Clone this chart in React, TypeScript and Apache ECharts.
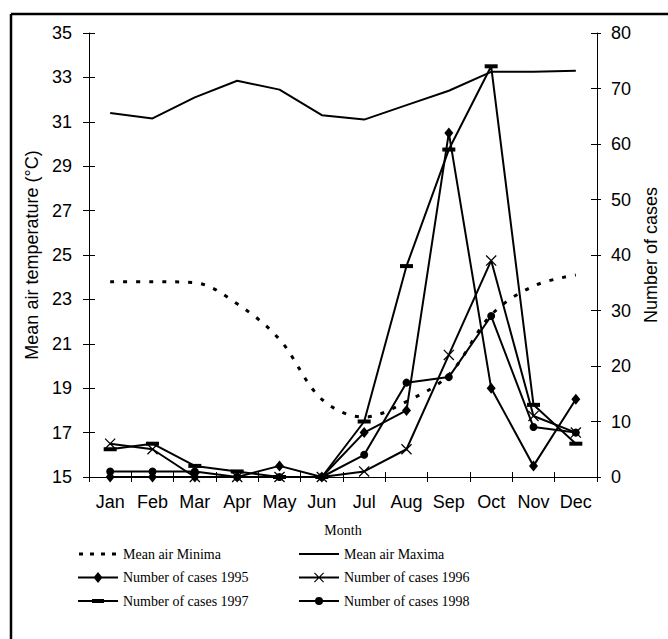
import React, { useEffect, useRef } from "react";
import * as echarts from "echarts";

const months = ["Jan", "Feb", "Mar", "Apr", "May", "Jun", "Jul", "Aug", "Sep", "Oct", "Nov", "Dec"];
const tempMin = [23.8, 23.8, 23.75, 22.8, 21.2, 18.5, 17.7, 18.4, 19.6, 22.3, 23.6, 24.1];
const tempMax = [31.4, 31.15, 32.1, 32.85, 32.45, 31.3, 31.1, 31.75, 32.4, 33.25, 33.25, 33.3];
const cases1995 = [0, 0, 0, 0, 2, 0, 8, 12, 62, 16, 2, 14];
const cases1996 = [6, 5, 0, 0, 0, 0, 1, 5, 22, 39, 11, 8];
const cases1997 = [5, 6, 2, 1, 0, 0, 10, 38, 59, 74, 13, 6];
const cases1998 = [1, 1, 1, 0, 0, 0, 4, 17, 18, 29, 9, 8];
const tempTicks = [15, 17, 19, 21, 23, 25, 27, 29, 31, 33, 35];

const SANS = "Liberation Sans";
const SERIF = "Liberation Serif";

// symbol shapes
const X_SYMBOL = "path://M0.8,0L10,9.2L9.2,10L0,0.8ZM9.2,0L10,0.8L0.8,10L0,9.2Z";

// legend icons drawn in a 40x14 box (line sample + marker)
const BOX = "M0,0L0.01,0ZM39.99,14L40,14Z";
const LINE = "M0,6L40,6L40,8L0,8Z";
const ICON_MIN = "path://" + BOX + "M1,5.5L5,5.5L5,8.5L1,8.5ZM12,5.5L16,5.5L16,8.5L12,8.5ZM23,5.5L27,5.5L27,8.5L23,8.5ZM34,5.5L38,5.5L38,8.5L34,8.5Z";
const ICON_MAX = "path://" + BOX + LINE;
const ICON_1995 = "path://" + BOX + LINE + "M20,1.5L24.5,7L20,12.5L15.5,7Z";
const ICON_1996 = "path://" + BOX + LINE + "M15.8,2L25,11.2L24.2,12L15,2.8ZM24.2,2L25,2.8L15.8,12L15,11.2Z";
const ICON_1997 = "path://" + BOX + LINE + "M14,5L26,5L26,9L14,9Z";
const ICON_1998 = "path://" + BOX + LINE + "M16,7A4,4,0,1,1,24,7A4,4,0,1,1,16,7Z";

export default function App() {
  const ref = useRef<HTMLDivElement>(null);
  useEffect(() => {
    if (!ref.current) return;
    const chart = echarts.init(ref.current, null, { renderer: "svg" });
    const axisText = { color: "#000", fontFamily: SANS, fontSize: 18 };
    const lineBlack = { lineStyle: { color: "#000", width: 1 } };
    const caseSeries = (name: string, data: number[], symbol: any, size: any) => ({
      name,
      type: "line",
      yAxisIndex: 1,
      data,
      symbol,
      symbolSize: size,
      showSymbol: true,
      lineStyle: { color: "#000", width: 2 },
      itemStyle: { color: "#000" },
      z: 3,
    });
    const legendBase = {
      orient: "vertical",
      top: 547,
      padding: 0,
      itemWidth: 40,
      itemHeight: 14,
      itemGap: 9.5,
      itemStyle: { color: "#000", borderWidth: 0 },
      textStyle: { color: "#000", fontFamily: SERIF, fontSize: 14 },
    };
    chart.setOption({
      animation: false,
      backgroundColor: "#fff",
      grid: { left: 89, right: 64, top: 33, bottom: 162 },
      graphic: [
        { type: "line", shape: { x1: 11, y1: 14, x2: 668, y2: 14 }, style: { stroke: "#000", lineWidth: 2.5 } },
        { type: "line", shape: { x1: 11, y1: 14, x2: 11, y2: 639 }, style: { stroke: "#000", lineWidth: 2.5 } },
      ],
      legend: [
        {
          ...legendBase,
          left: 78,
          data: [
            { name: "Mean air Minima", icon: ICON_MIN },
            { name: "Number of cases 1995", icon: ICON_1995 },
            { name: "Number of cases 1997", icon: ICON_1997 },
          ],
        },
        {
          ...legendBase,
          left: 299,
          data: [
            { name: "Mean air Maxima", icon: ICON_MAX },
            { name: "Number of cases 1996", icon: ICON_1996 },
            { name: "Number of cases 1998", icon: ICON_1998 },
          ],
        },
      ],
      xAxis: [
        {
          type: "category",
          data: months,
          boundaryGap: true,
          axisLine: lineBlack,
          axisTick: { show: true, length: 5, lineStyle: { color: "#000" } },
          axisLabel: { ...axisText, margin: 16, interval: 0, hideOverlap: false },
          name: "Month",
          nameLocation: "middle",
          nameGap: 46,
          nameTextStyle: { color: "#000", fontFamily: SERIF, fontSize: 14 },
          splitLine: { show: false },
        },
        {
          type: "category",
          data: months,
          boundaryGap: true,
          position: "bottom",
          axisLine: { show: false },
          axisTick: { show: true, inside: true, length: 5, lineStyle: { color: "#000" } },
          axisLabel: { show: false },
          splitLine: { show: false },
        },
      ],
      yAxis: [
        {
          type: "value",
          min: 15,
          max: 35,
          position: "left",
          axisLine: { show: true, ...lineBlack },
          axisTick: { show: true, length: 6, customValues: tempTicks, lineStyle: { color: "#000" } },
          axisLabel: { ...axisText, margin: 17, customValues: tempTicks },
          splitLine: { show: false },
          name: "Mean air temperature (°C)",
          nameLocation: "middle",
          nameGap: 47,
          nameTextStyle: { color: "#000", fontFamily: SANS, fontSize: 18 },
        },
        {
          type: "value",
          min: 0,
          max: 80,
          interval: 10,
          position: "right",
          axisLine: { show: true, ...lineBlack },
          axisTick: { show: true, length: 4, lineStyle: { color: "#000" } },
          axisLabel: { ...axisText, margin: 14 },
          splitLine: { show: false },
          name: "Number of cases",
          nameLocation: "middle",
          nameRotate: 90,
          nameGap: 45,
          nameTextStyle: { color: "#000", fontFamily: SANS, fontSize: 18 },
        },
        {
          type: "value",
          min: 15,
          max: 35,
          position: "left",
          axisLine: { show: false },
          axisTick: { show: true, inside: true, length: 6, customValues: tempTicks, lineStyle: { color: "#000" } },
          axisLabel: { show: false },
          splitLine: { show: false },
        },
        {
          type: "value",
          min: 0,
          max: 80,
          interval: 10,
          position: "right",
          axisLine: { show: false },
          axisTick: { show: true, inside: true, length: 6, lineStyle: { color: "#000" } },
          axisLabel: { show: false },
          splitLine: { show: false },
        },
      ],
      series: [
        {
          name: "Mean air Minima",
          type: "line",
          yAxisIndex: 0,
          data: tempMin,
          smooth: 0.35,
          symbol: "none",
          lineStyle: { color: "#000", width: 3, type: [4, 9] },
          itemStyle: { color: "#000" },
        },
        {
          name: "Mean air Maxima",
          type: "line",
          yAxisIndex: 0,
          data: tempMax,
          symbol: "none",
          lineStyle: { color: "#000", width: 2 },
          itemStyle: { color: "#000" },
        },
        caseSeries("Number of cases 1995", cases1995, "diamond", [9, 11]),
        caseSeries("Number of cases 1996", cases1996, X_SYMBOL, 11),
        caseSeries("Number of cases 1997", cases1997, "rect", [13, 4]),
        caseSeries("Number of cases 1998", cases1998, "circle", 8),
      ],
    });
    return () => chart.dispose();
  }, []);
  return (
    <div
      ref={ref}
      style={{ position: "fixed", left: 0, top: 0, width: 668, height: 639, background: "#fff" }}
    />
  );
}
